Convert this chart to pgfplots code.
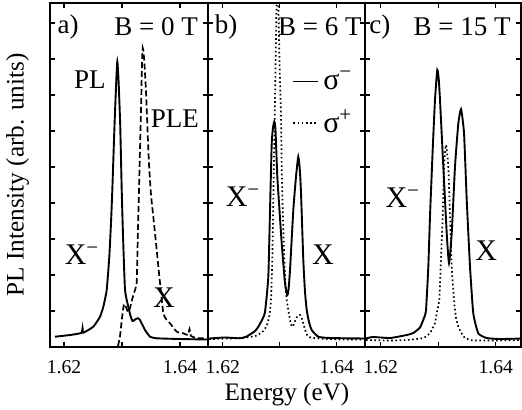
\documentclass[border=0pt]{standalone}
\usepackage{fontspec}
\setmainfont{Liberation Serif}
\usepackage{pgfplots}
\pgfplotsset{compat=1.18}

\pgfplotsset{
  panel/.style={
    scale only axis, width=78.5pt, height=172pt, anchor=south west,
    ymin=0, ymax=9.55, ytick={1,...,9}, yticklabels={},
    xtick={1.62,1.63,1.64}, xticklabels={1.62,,1.64},
    tick align=inside, major tick length=2.6pt, tick pos=both,
    every tick/.style={black, line width=0.7pt},
    axis line style={line width=0.75pt},
    tick label style={font=\fontsize{9.8}{10}\selectfont},
    xticklabel style={yshift=-3.2pt},
    /pgf/number format/assume math mode=true,
  },
}
\tikzset{
  lbl/.style={font=\fontsize{13.5}{14}\selectfont, inner sep=0pt},
  big/.style={font=\fontsize{15}{16}\selectfont, inner sep=0pt},
  sminus/.style={black, line width=0.95pt, smooth, tension=0.3},
  splus/.style={black, line width=0.85pt, dash pattern=on 0.8pt off 1.3pt, smooth, tension=0.3},
}

\begin{document}
\begin{tikzpicture}
\path[use as bounding box] (0,0) rectangle (261pt,204.5pt);

% a) B = 0 T
\begin{axis}[panel, at={(25pt,31pt)}, width=79pt,
    xmin=1.617586, xmax=1.644827,
    ylabel={PL Intensity (arb. units)},
    ylabel style={at={(axis description cs:-0.205,0.5)}, anchor=center,
      font=\fontsize{12.6}{13}\selectfont}]
  \addplot[sminus] coordinates {
    (1.61845,0.286) (1.62103,0.333) (1.62300,0.39) (1.62320,0.52) (1.62335,0.40)
    (1.62505,0.564) (1.62621,0.842) (1.62678,1.119) (1.62736,1.583)
    (1.62781,2.508) (1.62810,3.436) (1.62833,4.361) (1.62871,6.167)
    (1.62902,7.417) (1.62919,7.925) (1.62940,7.417) (1.62969,6.167)
    (1.62995,4.361) (1.63017,3.111) (1.63052,1.583) (1.63109,1.119)
    (1.63147,0.861) (1.63181,0.722) (1.63216,0.75) (1.63250,0.79)
    (1.63276,0.797) (1.63310,0.75) (1.63345,0.639) (1.63397,0.472)
    (1.63483,0.286) (1.63598,0.242) (1.64000,0.222) (1.64483,0.208)};
  \addplot[black, line width=0.85pt, dash pattern=on 3pt off 1.5pt, smooth, tension=0.3] coordinates {
    (1.62931,0.028) (1.62966,0.306) (1.63000,0.806) (1.63034,1.194)
    (1.63069,1.111) (1.63103,0.972) (1.63138,1.083) (1.63172,1.306)
    (1.63207,1.5) (1.63253,1.778) (1.63267,2.694) (1.63281,3.611)
    (1.63297,4.639) (1.63310,5.472) (1.63328,6.583) (1.63340,7.556)
    (1.63348,8.028) (1.63357,8.306) (1.63371,8.194) (1.63388,7.833)
    (1.63414,7.083) (1.63440,6.028) (1.63466,5.056) (1.63500,4.222)
    (1.63540,3.611) (1.63598,2.694) (1.63655,1.778) (1.63712,0.944)
    (1.63759,0.778) (1.63828,0.658) (1.63943,0.425) (1.64057,0.381)
    (1.64138,0.333) (1.64164,0.5) (1.64190,0.306) (1.64288,0.25)
    (1.64483,0.236)};
  \node[lbl] at (rel axis cs:0.114,0.930) {a)};
  \node[lbl] at (rel axis cs:0.672,0.930) {B = 0 T};
  \node[lbl] at (rel axis cs:0.253,0.776) {PL};
  \node[lbl] at (rel axis cs:0.790,0.663) {PLE};
  \node[big] at (rel axis cs:0.203,0.268) {X\textsuperscript{−}};
  \node[big] at (rel axis cs:0.722,0.142) {X};
\end{axis}

% b) B = 6 T
\begin{axis}[panel, at={(104pt,31pt)},
    xmin=1.617421, xmax=1.644965,
    xlabel={Energy (eV)},
    xlabel style={at={(axis description cs:0.503,-0.138)}, anchor=center,
      font=\fontsize{12.6}{13}\selectfont},
    legend style={at={(rel axis cs:0.535,0.815)}, anchor=north west,
      draw=none, fill=none, inner sep=0pt, row sep=5pt,
      font=\fontsize{15}{16}\selectfont},
    legend cell align=left,
    legend image code/.code={\draw[#1] (0pt,0pt) -- (12.5pt,0pt);}]
  \addplot[sminus] coordinates {
    (1.61760,0.236) (1.62040,0.264) (1.62304,0.242) (1.62421,0.292)
    (1.62567,0.444) (1.62625,0.564) (1.62689,0.75) (1.62742,0.972)
    (1.62800,1.944) (1.62830,3.806) (1.62860,5.658) (1.62882,6.083)
    (1.62905,6.258) (1.62926,6.028) (1.62958,4.731) (1.62996,3.806)
    (1.63035,2.881) (1.63093,1.769) (1.63133,1.444) (1.63154,1.583)
    (1.63181,2.139) (1.63239,3.806) (1.63286,4.731) (1.63326,5.286)
    (1.63353,4.917) (1.63374,4.269) (1.63414,2.417) (1.63444,1.528)
    (1.63474,1.028) (1.63514,0.694) (1.63561,0.472) (1.63677,0.286)
    (1.63882,0.25) (1.64496,0.236)};
  \addlegendentry{σ\textsuperscript{−}}
  \addplot[splus] coordinates {
    (1.61760,0.222) (1.62128,0.236) (1.62421,0.264) (1.62597,0.319)
    (1.62712,0.444) (1.62777,0.611) (1.62818,0.861) (1.62847,1.306)
    (1.62870,2.417) (1.62888,4.083) (1.62905,5.75) (1.62923,7.417)
    (1.62940,9.083) (1.62961,10.75) (1.62982,9.083) (1.63000,7.694)
    (1.63023,6.397) (1.63035,5.008) (1.63053,3.806) (1.63075,2.694)
    (1.63093,1.953) (1.63119,1.361) (1.63151,1.028) (1.63181,0.75)
    (1.63211,0.564) (1.63242,0.611) (1.63277,0.75) (1.63312,0.861)
    (1.63356,0.889) (1.63391,0.778) (1.63414,0.658) (1.63453,0.444)
    (1.63502,0.286) (1.63649,0.242) (1.64058,0.208) (1.64496,0.208)};
  \addlegendentry{σ\textsuperscript{+}}
  \node[lbl] at (rel axis cs:0.115,0.930) {b)};
  \node[lbl] at (rel axis cs:0.712,0.930) {B = 6 T};
  \node[big] at (rel axis cs:0.223,0.436) {X\textsuperscript{−}};
  \node[big] at (rel axis cs:0.732,0.267) {X};
\end{axis}

% c) B = 15 T
\begin{axis}[panel, at={(182.5pt,31pt)}, width=78pt,
    xmin=1.617270, xmax=1.644400]
  \addplot[sminus] coordinates {
    (1.61744,0.236) (1.61866,0.278) (1.62162,0.25) (1.62452,0.333)
    (1.62567,0.389) (1.62683,0.542) (1.62753,0.806) (1.62788,1.028)
    (1.62828,2.231) (1.62857,3.619) (1.62904,5.472) (1.62944,6.861)
    (1.62984,7.694) (1.63010,7.417) (1.63031,6.861) (1.63089,5.008)
    (1.63148,3.158) (1.63188,2.325) (1.63235,3.158) (1.63292,5.008)
    (1.63350,6.214) (1.63397,6.603) (1.63449,5.936) (1.63496,4.083)
    (1.63553,2.231) (1.63610,0.936) (1.63697,0.381) (1.63843,0.25)
    (1.64075,0.222) (1.64457,0.236)};
  \addplot[splus] coordinates {
    (1.61744,0.194) (1.62162,0.181) (1.62452,0.194) (1.62741,0.25)
    (1.62857,0.389) (1.62915,0.564) (1.62944,0.658) (1.62979,0.972)
    (1.63019,1.306) (1.63043,2.231) (1.63078,3.619) (1.63101,5.008)
    (1.63136,5.611) (1.63176,5.008) (1.63205,3.619) (1.63235,2.231)
    (1.63275,1.306) (1.63310,0.806) (1.63350,0.564) (1.63414,0.361)
    (1.63466,0.25) (1.63610,0.181) (1.64075,0.181) (1.64457,0.194)};
  \node[lbl] at (rel axis cs:0.096,0.930) {c)};
  \node[lbl] at (rel axis cs:0.622,0.930) {B = 15 T};
  \node[big] at (rel axis cs:0.242,0.433) {X\textsuperscript{−}};
  \node[big] at (rel axis cs:0.777,0.279) {X};
\end{axis}
\end{tikzpicture}
\end{document}
